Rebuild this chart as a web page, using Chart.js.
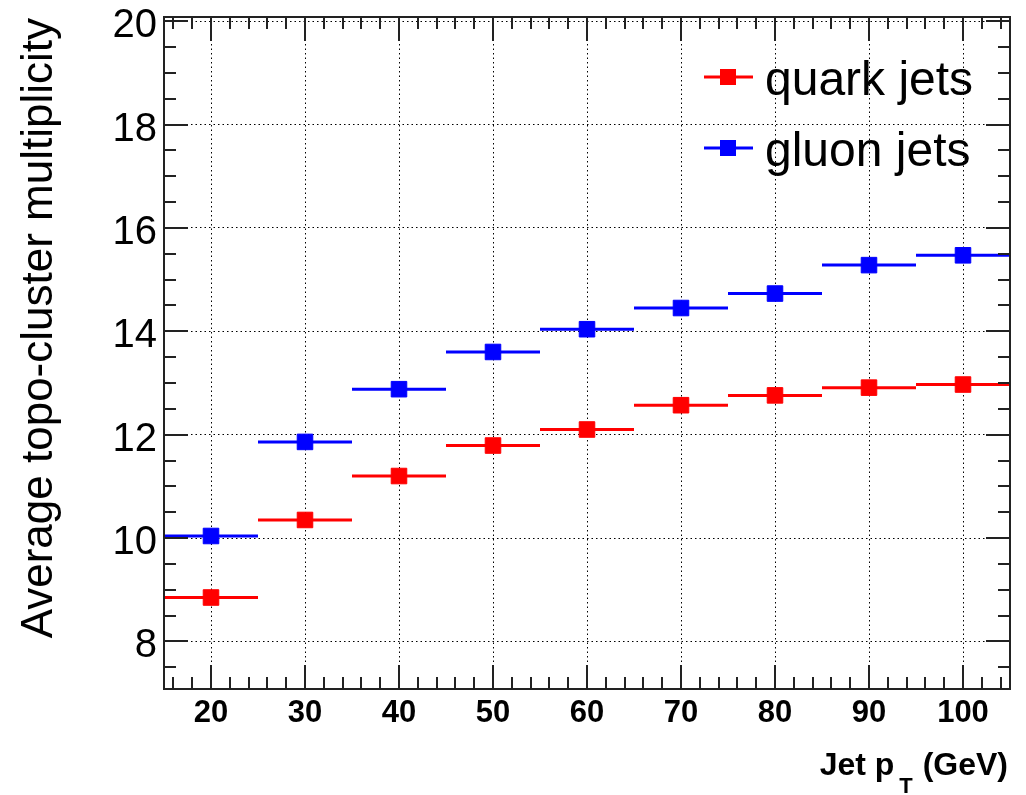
<!DOCTYPE html>
<html>
<head>
<meta charset="utf-8">
<script src="https://cdn.jsdelivr.net/npm/chart.js@4.4.1/dist/chart.umd.min.js"></script>
<style>
  html, body { margin: 0; padding: 0; background: #fff; }
  #wrap { width: 1026px; height: 795px; }
</style>
</head>
<body>
<div id="wrap"><canvas id="chart"></canvas></div>
<script>
// Data
const ptBins = [20, 30, 40, 50, 60, 70, 80, 90, 100];
const binHalfWidth = 5;
const quarkMult = [8.85, 10.35, 11.20, 11.79, 12.10, 12.57, 12.76, 12.91, 12.97];
const gluonMult = [10.04, 11.86, 12.88, 13.60, 14.04, 14.45, 14.73, 15.28, 15.47];
const seriesLabels = ["quark jets", "gluon jets"];
const seriesColors = ["#ff0000", "#0000ff"];

// Axes
const xRange = [15, 105];
const yRange = [7.08, 20.08];
const xTicks = [20, 30, 40, 50, 60, 70, 80, 90, 100];
const yTicks = [8, 10, 12, 14, 16, 18, 20];
const xMinorStep = 2;
const yMinorStep = 0.5;

const FONT = "'Liberation Sans', Arial, Helvetica, sans-serif";

// Helpers
const getById = (id) => document.getElementById(id);

function markerPoints(values) {
  return ptBins.map((x, i) => ({ x, y: values[i] }));
}

// horizontal bin-width bars, separated by null gaps
function binBars(values) {
  const pts = [];
  ptBins.forEach((x, i) => {
    pts.push({ x: x - binHalfWidth, y: values[i] });
    pts.push({ x: x + binHalfWidth, y: values[i] });
    pts.push({ x: x + binHalfWidth, y: null });
  });
  return pts;
}

function barDataset(values, color) {
  return {
    type: "line",
    data: binBars(values),
    borderColor: color,
    borderWidth: 3,
    pointRadius: 0,
    spanGaps: false,
    showLine: true,
  };
}

function markerDataset(values, color) {
  return {
    type: "scatter",
    data: markerPoints(values),
    pointStyle: "rect",
    pointRadius: 11,
    pointHoverRadius: 11,
    backgroundColor: color,
    borderColor: color,
    borderWidth: 1,
  };
}

// ROOT-style frame, inner ticks, axis titles and legend
const rootDecor = {
  id: "rootDecor",
  afterDraw(chart) {
    const { ctx, chartArea: a, scales: { x, y } } = chart;
    ctx.save();
    ctx.strokeStyle = "#222";
    ctx.lineWidth = 2;
    ctx.beginPath();
    for (let v = xRange[0] + 1; v < xRange[1]; v += xMinorStep) {
      const px = Math.round(x.getPixelForValue(v));
      const len = xTicks.includes(v) ? 24 : 12;
      ctx.moveTo(px, a.bottom); ctx.lineTo(px, a.bottom - len);
      ctx.moveTo(px, a.top); ctx.lineTo(px, a.top + len);
    }
    for (let v = 7.5; v <= 20; v += yMinorStep) {
      const py = Math.round(y.getPixelForValue(v));
      const len = yTicks.includes(v) ? 24 : 12;
      ctx.moveTo(a.left, py); ctx.lineTo(a.left + len, py);
      ctx.moveTo(a.right, py); ctx.lineTo(a.right - len, py);
    }
    ctx.stroke();
    ctx.strokeRect(a.left, a.top, a.right - a.left, a.bottom - a.top);

    // y title
    ctx.fillStyle = "#000";
    ctx.save();
    ctx.translate(52, a.top + 1);
    ctx.rotate(-Math.PI / 2);
    ctx.font = `44px ${FONT}`;
    ctx.textAlign = "right";
    ctx.textBaseline = "alphabetic";
    ctx.fillText("Average topo-cluster multiplicity", 0, 0);
    ctx.restore();

    // x title with subscript
    const big = `bold 32px ${FONT}`;
    const sub = `bold 22px ${FONT}`;
    ctx.textAlign = "left";
    ctx.font = big;
    const w1 = ctx.measureText("Jet p").width;
    const w3 = ctx.measureText(" (GeV)").width;
    ctx.font = sub;
    const w2 = ctx.measureText("T").width + 6;
    let tx = a.right - 2 - (w1 + w2 + w3);
    ctx.font = big;
    ctx.fillText("Jet p", tx, 775);
    ctx.font = sub;
    ctx.fillText("T", tx + w1 + 5, 793);
    ctx.font = big;
    ctx.fillText(" (GeV)", tx + w1 + w2, 775);

    // legend
    const legendRows = [77, 148];
    ctx.font = `48px ${FONT}`;
    seriesLabels.forEach((label, i) => {
      const cy = legendRows[i];
      ctx.strokeStyle = seriesColors[i];
      ctx.fillStyle = seriesColors[i];
      ctx.lineWidth = 3;
      ctx.beginPath();
      ctx.moveTo(704, cy); ctx.lineTo(753, cy);
      ctx.stroke();
      ctx.fillRect(720, cy - 8, 16, 16);
      ctx.fillStyle = "#000";
      ctx.fillText(label, 765, cy + 18);
    });
    ctx.restore();
  }
};

window.addEventListener("DOMContentLoaded", () => {
  new Chart(getById("chart").getContext("2d"), {
    type: "scatter",
    data: {
      datasets: [
        barDataset(quarkMult, seriesColors[0]),
        barDataset(gluonMult, seriesColors[1]),
        markerDataset(quarkMult, seriesColors[0]),
        markerDataset(gluonMult, seriesColors[1]),
      ]
    },
    options: {
      responsive: true,
      maintainAspectRatio: false,
      animation: false,
      events: [],
      layout: { padding: { top: 16, right: 16, left: 0, bottom: 0 } },
      plugins: {
        legend: { display: false },
        tooltip: { enabled: false },
      },
      scales: {
        x: {
          type: "linear",
          min: xRange[0],
          max: xRange[1],
          afterBuildTicks: (scale) => { scale.ticks = xTicks.map(value => ({ value })); },
          afterFit: (scale) => { scale.height = 106; },
          grid: { color: "#000", lineWidth: 1, drawTicks: false },
          border: { display: false, dash: [1.5, 3] },
          ticks: {
            color: "#000",
            padding: 17,
            maxRotation: 0,
            autoSkip: false,
            font: { family: FONT, size: 31, weight: "bold", lineHeight: 0.5 },
          },
        },
        y: {
          type: "linear",
          min: yRange[0],
          max: yRange[1],
          afterBuildTicks: (scale) => { scale.ticks = yTicks.map(value => ({ value })); },
          afterFit: (scale) => { scale.width = 164; },
          grid: { color: "#000", lineWidth: 1, drawTicks: false },
          border: { display: false, dash: [1.5, 3] },
          ticks: {
            color: "#000",
            padding: 7,
            labelOffset: 5,
            autoSkip: false,
            font: { family: FONT, size: 40, lineHeight: 0.5 },
          },
        },
      },
    },
    plugins: [rootDecor],
  });
});
</script>
</body>
</html>
